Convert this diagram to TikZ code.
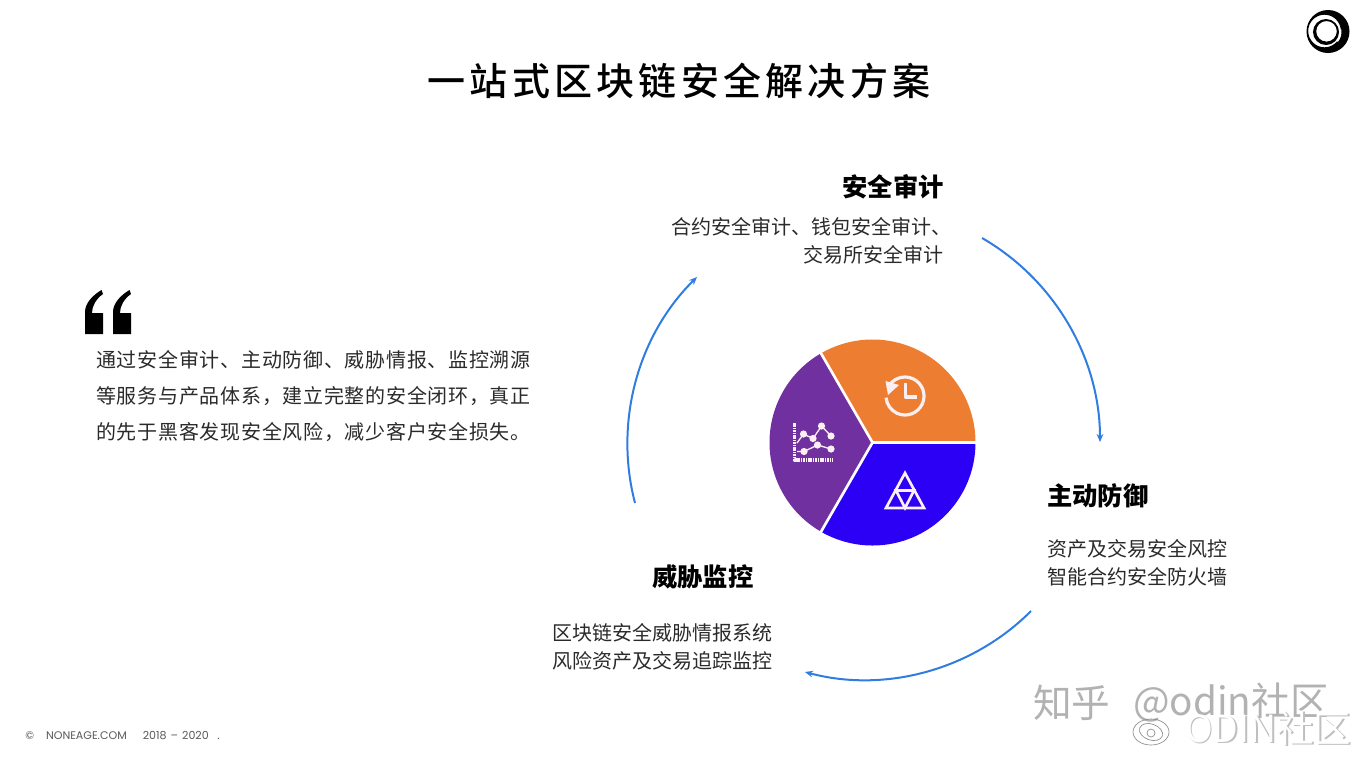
\documentclass[tikz,border=0pt]{standalone}
\usepackage{fontspec}
\setmainfont{Noto Sans CJK SC}
\newfontfamily\titlefont[LetterSpace=11.2]{Noto Sans CJK SC Medium}
\newfontfamily\bodyfont[LetterSpace=3.6]{Noto Sans CJK SC}
\newfontfamily\footfont{Poppins}
\definecolor{wedgeorange}{HTML}{ED7D31}
\definecolor{wedgeblue}{HTML}{2B00F5}
\definecolor{wedgepurple}{HTML}{7030A0}
\definecolor{arcblue}{HTML}{2F7DE0}
\definecolor{inktext}{HTML}{2A2A2A}
\definecolor{iconwhite}{HTML}{FBEFF2}
\tikzset{
	headlabel/.style={font=\fontsize{19}{24}\selectfont\bfseries,text=black,inner sep=0pt},
	sublabel/.style={font=\fontsize{15}{21}\selectfont,text=inktext,inner sep=0pt},
	cyclearc/.style={-{Stealth[length=6pt,width=5pt]},draw=arcblue,line width=1.5pt,bend left=30,looseness=0.91},
	wedgeline/.style={draw=white,line width=2pt},
	iconline/.style={draw=iconwhite,line width=2.4pt},
	markwater/.style={font=\fontsize{29}{30}\selectfont,text=black!30,inner sep=0pt,anchor=west},
}
\usetikzlibrary{arrows.meta}
\begin{document}
\begin{tikzpicture}[x=0.75pt,y=-0.75pt,line join=round,>=stealth]
	\useasboundingbox (0,0) rectangle (1362,758);
	\def\rpie{103}
	\coordinate (pie) at (872.5,442.5);
	% title and corner logo
	\node[font=\fontsize{28.5}{30}\selectfont\titlefont,text=black,inner sep=0pt] (title) at (679,81) {一站式区块链安全解决方案};
	\fill[black,even odd rule] (1328,31.5) circle (21.5) (1324.5,31) circle (16.3);
	\fill[black,even odd rule] (1326,32) circle (13) (1326.5,31.3) circle (10.3);
	\draw[white,line width=1.4pt] (1326,32) ++(-10:14.5) arc (-10:40:14.5);
	% pie
	\fill[wedgeorange] (pie) -- +(-120:\rpie) arc (-120:0:\rpie) -- cycle;
	\fill[wedgeblue] (pie) -- +(0:\rpie) arc (0:120:\rpie) -- cycle;
	\fill[wedgepurple] (pie) -- +(120:\rpie) arc (120:240:\rpie) -- cycle;
	\foreach \a in {0,120,240}
	{
		\draw[wedgeline] (pie) -- +(\a:\rpie+2);
	}
	% clock icon
	\coordinate (clock) at (905,396);
	\draw[iconline] (clock) ++(-155:19) arc (-155:175:19);
	\fill[iconwhite] (885.5,381) -- (899,385) -- (888,395) -- cycle;
	\draw[iconline] (905.5,383) -- (905.5,397) -- (917,397);
	% triangle icon
	\draw[iconwhite,line width=2pt,line join=miter] (905,473) -- (924,508) -- (886,508) -- cycle;
	\draw[iconwhite,line width=2pt,line join=miter] (896,490.5) -- (914,490.5) -- (905,508) -- cycle;
	% chart icon
	\draw[iconwhite,line width=2.4pt,dash pattern=on 1.2pt off 0.6pt] (794.5,423) -- (794.5,460) -- (833,460);
	\draw[iconwhite,line width=1pt] (797,443) -- (803.5,434) -- (813,438.5) -- (821.5,426) -- (831,436);
	\draw[iconwhite,line width=1pt] (797,451.5) -- (804,451.5) -- (817.5,445) -- (831,449);
	\foreach \px/\py in {803.5/434,813/438.5,821.5/426,831/436,804/451.5,817.5/445,831/449}
	{
		\fill[iconwhite] (\px,\py) circle (3.6);
	}
	% quote marks
	\foreach \dx in {85,113}
	{
		\fill[black] (\dx,334) -- (\dx,312) .. controls (\dx,303) and (\dx+8,295) .. (\dx+16.5,290) -- (\dx+18,294) .. controls (\dx+11,299) and (\dx+7,306) .. (\dx+7,313) -- (\dx+18,313) -- (\dx+18,334) -- cycle;
	}
	\node[anchor=north west,align=left,font=\fontsize{15}{27}\selectfont\bodyfont,text=inktext,inner sep=0pt] (intro) at (96,350) {通过安全审计、主动防御、威胁情报、监控溯源\\等服务与产品体系，建立完整的安全闭环，真正\\的先于黑客发现安全风险，减少客户安全损失。};
	% labels
	\node[headlabel,anchor=east] (audit) at (944,187) {安全审计};
	\node[sublabel,anchor=east,align=right] (auditsub) at (944,241) {合约安全审计、钱包安全审计、\hspace{-5.5pt}\mbox{}\\交易所安全审计};
	\node[headlabel,anchor=west] (defend) at (1047,496) {主动防御};
	\node[sublabel,anchor=west,align=left] (defendsub) at (1047,563) {资产及交易安全风控\\智能合约安全防火墙};
	\node[headlabel,anchor=west] (monitor) at (652,577) {威胁监控};
	\node[sublabel,anchor=east,align=left] (monitorsub) at (773,647) {区块链安全威胁情报系统\\风险资产及交易追踪监控};
	% cycle arrows
	\coordinate (arcaa) at (982,238);
	\coordinate (arcab) at (1100,442);
	\coordinate (arcba) at (1031,611);
	\coordinate (arcbb) at (805,672);
	\coordinate (arcca) at (635,503);
	\coordinate (arccb) at (697,277);
	\draw[cyclearc] (arcaa) to (arcab);
	\draw[cyclearc] (arcba) to (arcbb);
	\draw[cyclearc] (arcca) to (arccb);
	% footer
	\node[anchor=west,font=\fontsize{8.3}{9}\selectfont\footfont,text=black!65,inner sep=0pt] (foot) at (25,736) {©\hspace{9pt}NONEAGE.COM\hspace{12pt}2018\hspace{3pt}–\hspace{3pt}2020\hspace{6.5pt}.};
	% watermark
	\node[markwater] (markzh) at (1033,703) {知乎};
	\node[markwater] (markat) at (1133,703) {@odin社区};
	\draw[black!45,line width=0.5pt] (1151,732) ellipse (18 and 13);
	\draw[black!45,line width=0.5pt,rotate around={-20:(1151,732)}] (1151,732) ellipse (12 and 8);
	\draw[black!45,line width=0.5pt] (1151,733) circle (4);
	\node[font=\fontsize{28}{28}\selectfont,text=black!25,inner sep=0pt,anchor=west] (markshade) at (1186.5,729.5) {ODIN社区};
	\node[font=\fontsize{28}{28}\selectfont,text=white,inner sep=0pt,anchor=west] (markodin) at (1185,728) {ODIN社区};
\end{tikzpicture}
\end{document}
